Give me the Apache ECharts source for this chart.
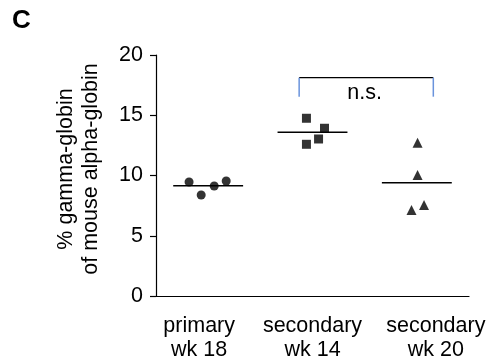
<!DOCTYPE html>
<html>
<head>
<meta charset="utf-8">
<script src="https://cdn.jsdelivr.net/npm/echarts@6/dist/echarts.min.js"></script>
<style>
  html, body { margin: 0; padding: 0; background: #fff; }
  #chart { width: 490px; height: 359px; }
</style>
</head>
<body>
<div id="chart"></div>
<script>
// groups on the x axis
const categories = ['primary\nwk 18', 'secondary\nwk 14', 'secondary\nwk 20'];

// % gamma-globin per mouse
const primaryWk18 = [9.46, 8.38, 9.13, 9.54];
const secondaryWk14 = [14.75, 13.92, 13.03, 12.59];
const secondaryWk20 = [12.72, 10.04, 7.14, 7.55];

// horizontal spread of the points inside each group (category units)
const jitter18 = [-0.183, -0.067, 0.058, 0.173];
const jitter14 = [-0.058, 0.115, 0.058, -0.058];
const jitter20 = [0.007, 0.007, -0.051, 0.069];

// group means drawn as bars
const means = [9.15, 13.58, 9.40];

// comparison bracket: between groups 2 and 3
const bracket = { from: 1.372, to: 2.658, top: 18.12, bottom: 16.54, label: 'n.s.' };

const FONT = "'Liberation Sans', Arial, sans-serif";
const FS = 21.5;

// the outer labels sit a little off their ticks in the original
const labelPadding = [[0, 18, 0, 0], [0, 0, 0, 0], [0, 0, 0, 38]];

function points(values, jitter, idx) {
  return values.map((v, i) => [idx + 0.5 + jitter[i], v]);
}

const chart = echarts.init(document.getElementById('chart'));

const option = {
  animation: false,
  title: {
    text: 'C',
    left: 12,
    top: 8,
    padding: 0,
    textStyle: { fontFamily: FONT, fontSize: 26, fontWeight: 'bold', color: '#000' }
  },
  grid: { left: 156, right: 21, top: 55, bottom: 63, outerBoundsMode: 'none' },
  xAxis: [
    {
      type: 'category',
      data: categories.map((c, i) => ({ value: c, textStyle: { padding: labelPadding[i] } })),
      axisLine: { lineStyle: { color: '#000', width: 1.2 } },
      axisTick: { alignWithLabel: true, length: 7, lineStyle: { color: '#000', width: 1.2 } },
      axisLabel: { interval: 0, color: '#000', fontFamily: FONT, fontSize: FS, lineHeight: 24, margin: 18 },
      splitLine: { show: false }
    },
    {
      type: 'value',
      min: 0,
      max: 3,
      show: false
    }
  ],
  yAxis: {
    type: 'value',
    min: 0,
    max: 20,
    interval: 5,
    name: '% gamma-globin\nof mouse alpha-globin',
    nameLocation: 'middle',
    nameGap: 52,
    nameTextStyle: { color: '#000', fontFamily: FONT, fontSize: FS, lineHeight: 25, padding: [0, 0, 0, 13] },
    axisLine: { show: true, lineStyle: { color: '#000', width: 1.2 } },
    axisTick: { show: true, length: 6, lineStyle: { color: '#000', width: 1.2 } },
    axisLabel: { color: '#000', fontFamily: FONT, fontSize: FS, margin: 13 },
    splitLine: { show: false }
  },
  series: [
    {
      type: 'scatter',
      xAxisIndex: 1,
      symbol: 'circle',
      symbolSize: 9,
      itemStyle: { color: '#000' },
      data: points(primaryWk18, jitter18, 0)
    },
    {
      type: 'scatter',
      xAxisIndex: 1,
      symbol: 'rect',
      symbolSize: 9,
      itemStyle: { color: '#000' },
      data: points(secondaryWk14, jitter14, 1)
    },
    {
      type: 'scatter',
      xAxisIndex: 1,
      symbol: 'triangle',
      symbolSize: 10,
      itemStyle: { color: '#000' },
      data: points(secondaryWk20, jitter20, 2)
    },
    {
      type: 'custom',
      xAxisIndex: 1,
      data: means.map((m, i) => [i + 0.5, m]),
      renderItem: function (params, api) {
        const x = api.value(0), y = api.value(1);
        const a = api.coord([x - 0.335, y]);
        const b = api.coord([x + 0.335, y]);
        return {
          type: 'line',
          shape: { x1: a[0], y1: a[1], x2: b[0], y2: b[1] },
          style: { stroke: '#000', lineWidth: 1.5 }
        };
      }
    },
    {
      type: 'custom',
      xAxisIndex: 1,
      data: [[bracket.from, bracket.top]],
      renderItem: function (params, api) {
        const tl = api.coord([bracket.from, bracket.top]);
        const tr = api.coord([bracket.to, bracket.top]);
        const bl = api.coord([bracket.from, bracket.bottom]);
        const br = api.coord([bracket.to, bracket.bottom]);
        const mid = api.coord([2.0, bracket.top]);
        return {
          type: 'group',
          children: [
            { type: 'line', shape: { x1: tl[0], y1: tl[1], x2: tr[0], y2: tr[1] },
              style: { stroke: '#000', lineWidth: 1.2 } },
            { type: 'line', shape: { x1: tl[0], y1: tl[1], x2: bl[0], y2: bl[1] },
              style: { stroke: '#6a93dc', lineWidth: 1.5 } },
            { type: 'line', shape: { x1: tr[0], y1: tr[1], x2: br[0], y2: br[1] },
              style: { stroke: '#6a93dc', lineWidth: 1.5 } },
            { type: 'text', x: mid[0], y: mid[1] + 15,
              style: { text: bracket.label, fill: '#000', font: FS + 'px ' + FONT,
                       textAlign: 'center', textVerticalAlign: 'middle' } }
          ]
        };
      }
    }
  ]
};

chart.setOption(option);
</script>
</body>
</html>
